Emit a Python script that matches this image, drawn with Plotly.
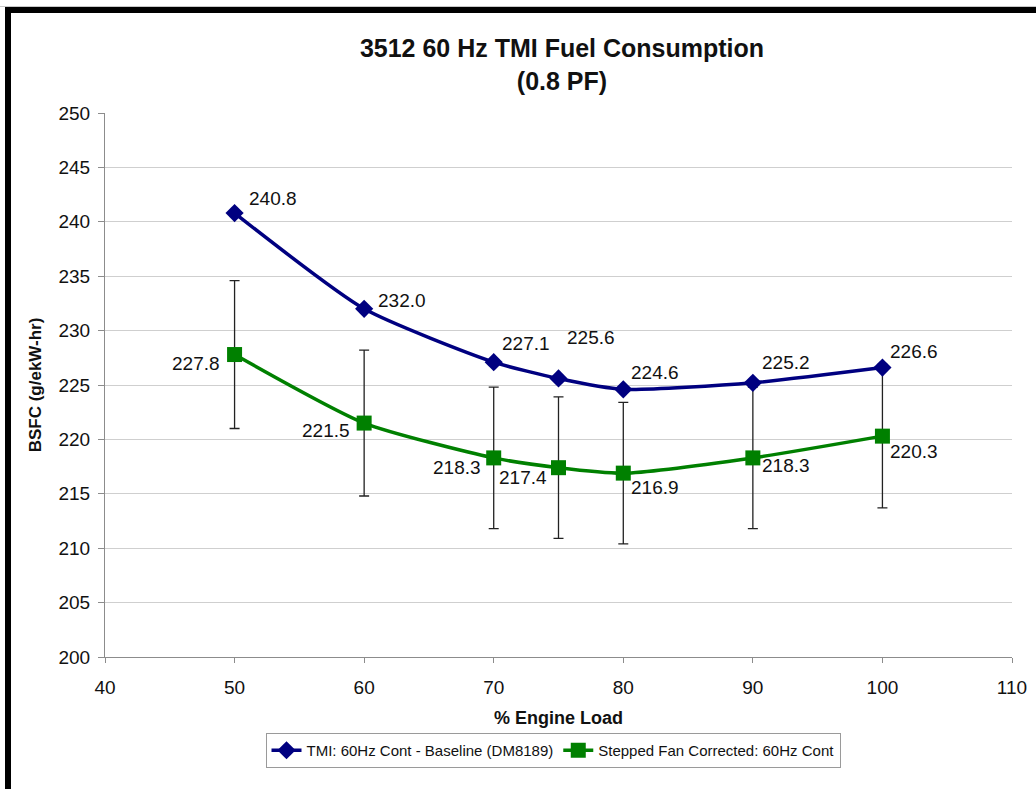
import plotly.graph_objects as go

load = [50, 60, 70, 75, 80, 90, 100]
baseline = [240.8, 232.0, 227.1, 225.6, 224.6, 225.2, 226.6]
stepped = [227.8, 221.5, 218.3, 217.4, 216.9, 218.3, 220.3]
stepped_err = [6.8, 6.7, 6.5, 6.5, 6.5, 6.5, 6.6]

name_base = "TMI: 60Hz Cont - Baseline (DM8189)"
name_step = "Stepped Fan Corrected: 60Hz Cont"
title_text = "<b>3512 60 Hz TMI Fuel Consumption<br>(0.8 PF)</b>"

# label offsets (px) for data labels
base_off = [(38, 15), (38, 8), (32, 19), (32, 41), (32, 17), (33, 20), (32, 16)]
step_off = [(-39, -9), (-38, -7), (-37, -10), (-36, -10), (32, -14), (33, -8), (32, -15)]

W, H = 1036, 789
L, R, T, B = 105, 24, 113, 132
pw, ph = W - L - R, H - T - B

def px(x):
    return (x - L) / pw

def py(y):
    return (H - B - y) / ph

FONT = "Liberation Sans, Arial, sans-serif"
NAVY = "#000080"
GREEN = "#008000"

fig = go.Figure()
fig.add_trace(go.Scatter(
    x=load, y=stepped, name=name_step, mode="lines+markers",
    line=dict(color=GREEN, width=3.5, shape="spline", smoothing=0.6),
    marker=dict(symbol="square", size=15, color=GREEN),
    error_y=dict(type="data", array=stepped_err, visible=True,
                 color="#222222", thickness=1.3, width=5),
))
fig.add_trace(go.Scatter(
    x=load, y=baseline, name=name_base, mode="lines+markers",
    line=dict(color=NAVY, width=3.5, shape="spline", smoothing=0.6),
    marker=dict(symbol="diamond", size=14, color=NAVY),
))

ann = []
for xv, yv, (dx, dy) in zip(load, baseline, base_off):
    ann.append(dict(x=xv, y=yv, text=f"{yv:.1f}", showarrow=False,
                    xshift=dx, yshift=dy, font=dict(size=19, color="#111")))
for xv, yv, (dx, dy) in zip(load, stepped, step_off):
    ann.append(dict(x=xv, y=yv, text=f"{yv:.1f}", showarrow=False,
                    xshift=dx, yshift=dy, font=dict(size=19, color="#111")))

shapes = [
    dict(type="line", xref="paper", yref="paper", x0=px(0), x1=px(W), y0=py(6.5), y1=py(6.5),
         line=dict(color="#c8c8c8", width=1)),
    # black frame: top and left
    dict(type="rect", xref="paper", yref="paper", x0=px(5), x1=px(W + 5), y0=py(13), y1=py(7),
         fillcolor="black", line=dict(width=0)),
    dict(type="rect", xref="paper", yref="paper", x0=px(5), x1=px(11), y0=py(H + 5), y1=py(7),
         fillcolor="black", line=dict(width=0)),
]

fig.update_layout(
    width=W, height=H,
    margin=dict(l=L, r=R, t=T, b=B, pad=0, autoexpand=False),
    paper_bgcolor="white", plot_bgcolor="white",
    font=dict(family=FONT, size=16, color="#111"),
    title=dict(text=title_text, xref="container", x=562 / W, xanchor="center",
               y=1 - 57 / H, yanchor="middle",
               font=dict(size=25, family=FONT, color="#111")),
    xaxis=dict(range=[40, 110], tickmode="linear", tick0=40, dtick=10, automargin=False,
               showgrid=False, zeroline=False, showline=True, linecolor="#8c8c8c", linewidth=1,
               ticks="outside", ticklen=5, tickcolor="#8c8c8c",
               ticklabelstandoff=8,
               tickfont=dict(size=19, family=FONT),
               title=dict(text="<b>% Engine Load</b>", font=dict(size=18, family=FONT), standoff=14)),
    yaxis=dict(range=[200, 250], tickmode="linear", tick0=200, dtick=5, automargin=False,
               showgrid=True, gridcolor="#cfcfcf", gridwidth=1, zeroline=False,
               showline=True, linecolor="#8c8c8c", linewidth=1,
               ticks="outside", ticklen=6, tickcolor="#8c8c8c",
               ticklabelstandoff=4,
               tickfont=dict(size=19, family=FONT),
               title=dict(text="<b>BSFC (g/ekW-hr)</b>", font=dict(size=17, family=FONT), standoff=12)),
    legend=dict(orientation="h", x=px(553), xanchor="center", y=py(733), yanchor="top",
                bordercolor="#9a9a9a", borderwidth=1, bgcolor="white",
                font=dict(size=15, family=FONT), traceorder="reversed",
                tracegroupgap=0),
    annotations=ann,
    shapes=shapes,
    showlegend=True,
)

fig.write_html("out.html", post_script="document.body.style.margin='0';",
               config={"displayModeBar": False})
